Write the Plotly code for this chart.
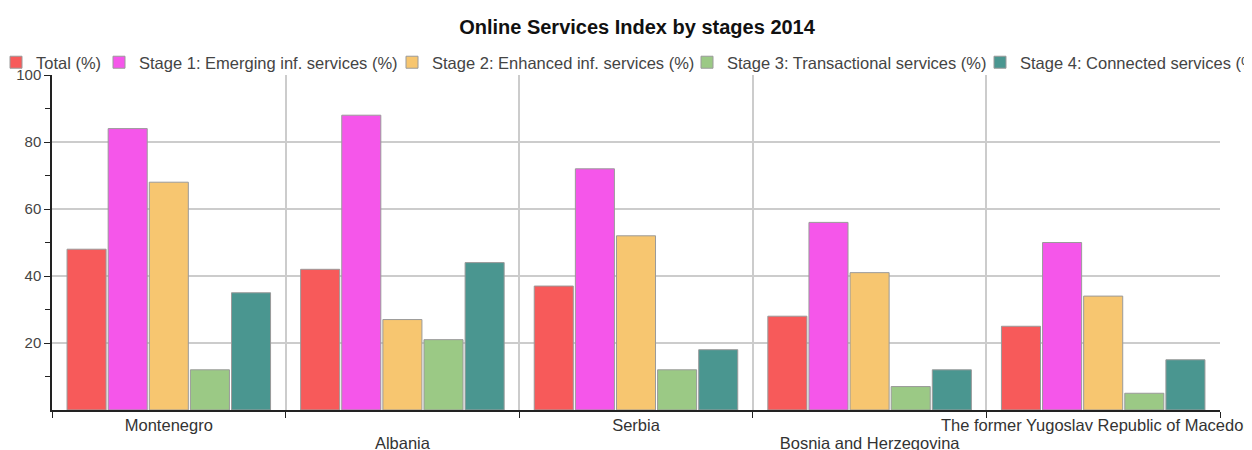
import plotly.graph_objects as go

countries = ["Montenegro", "Albania", "Serbia", "Bosnia and Herzegovina",
             "The former Yugoslav Republic of Macedonia"]
row1_labels = ["Montenegro", "", "Serbia", "", "The former Yugoslav Republic of Macedonia"]
row2_labels = ["", "Albania", "", "Bosnia and Herzegovina", ""]
series_names = ["Total (%)", "Stage 1: Emerging inf. services (%)",
                "Stage 2: Enhanced inf. services (%)",
                "Stage 3: Transactional services (%)",
                "Stage 4: Connected services (%)"]
total = [48, 42, 37, 28, 25]
stage1 = [84, 88, 72, 56, 50]
stage2 = [68, 27, 52, 41, 34]
stage3 = [12, 21, 12, 7, 5]
stage4 = [35, 44, 18, 12, 15]
series_values = [total, stage1, stage2, stage3, stage4]
colors = ["#F75A5A", "#F556EA", "#F7C670", "#9BC985", "#4A9690"]
legend_sq = [14, 117, 410, 705, 998]

FONT = "Liberation Sans, Arial, sans-serif"
W, H = 1244, 442  # page body has an 8px margin
ML, MR, MT, MB = 44, 32, 67, 40
PW = W - ML - MR

fig = go.Figure()
for i, (name, vals, col) in enumerate(zip(series_names, series_values, colors)):
    lname = "legend" if i == 0 else f"legend{i+1}"
    fig.add_trace(go.Bar(
        x=countries, y=vals, name=name, showlegend=True,
        marker=dict(color=col, line=dict(color="#9a9a9a", width=1)),
        legend=lname,
    ))

# invisible helper trace so the second (staggered label) axis is drawn
fig.add_trace(go.Scatter(x=countries, y=[None] * len(countries), xaxis="x2",
                         mode="markers", showlegend=False, hoverinfo="skip"))

layout_legends = {}
for i, sq in enumerate(legend_sq):
    lname = "legend" if i == 0 else f"legend{i+1}"
    xpix = sq - 3 - 8 - 15
    layout_legends[lname] = dict(
        x=(xpix - ML) / PW, xref="paper", xanchor="left",
        y=1 - 37 / H, yref="container", yanchor="top",
        orientation="h", bgcolor="rgba(0,0,0,0)",
        font=dict(family=FONT, size=16.5, color="#444"),
    )

fig.update_layout(
    width=W, height=H,
    margin=dict(l=ML, r=MR, t=MT, b=MB, autoexpand=False),
    paper_bgcolor="white", plot_bgcolor="white",
    title=dict(text="<b>Online Services Index by stages 2014</b>", x=(637 - 8) / W, xref="container",
               xanchor="center",
               y=1 - 19 / H, yref="container", yanchor="middle",
               font=dict(family=FONT, size=20, color="#111")),
    barmode="group", bargap=0.12, bargroupgap=0.05,
    font=dict(family=FONT, size=15, color="#444"),
    xaxis=dict(
        type="category", categoryorder="array", categoryarray=countries,
        tickmode="array", tickvals=countries, ticktext=row1_labels, tickangle=0,
        tickson="boundaries", ticks="outside", ticklen=6, tickcolor="#222",
        ticklabelstandoff=-1,
        showgrid=True, gridcolor="#cccccc", gridwidth=2,
        showline=True, linecolor="#222", linewidth=1.5, automargin=False,
        tickfont=dict(size=16.5, color="#333"),
    ),
    xaxis2=dict(
        type="category", categoryorder="array", categoryarray=countries,
        overlaying="x", matches="x", anchor="y", side="bottom",
        tickmode="array", tickvals=countries, ticktext=row2_labels, tickangle=0,
        ticks="", ticklabelstandoff=21, showgrid=False, showline=False, zeroline=False,
        automargin=False, tickfont=dict(size=16.5, color="#333"),
    ),
    yaxis=dict(
        range=[0, 100], tickvals=[20, 40, 60, 80, 100],
        ticks="outside", ticklen=6, tickcolor="#222",
        minor=dict(tickvals=[10, 30, 50, 70, 90], ticks="outside", ticklen=5, tickcolor="#222", showgrid=False),
        showgrid=True, gridcolor="#cccccc", gridwidth=2, zeroline=False,
        showline=True, linecolor="#222", linewidth=1.5, automargin=False,
        tickfont=dict(size=15, color="#444"),
    ),
    **layout_legends,
)

fig.write_html("out.html")
